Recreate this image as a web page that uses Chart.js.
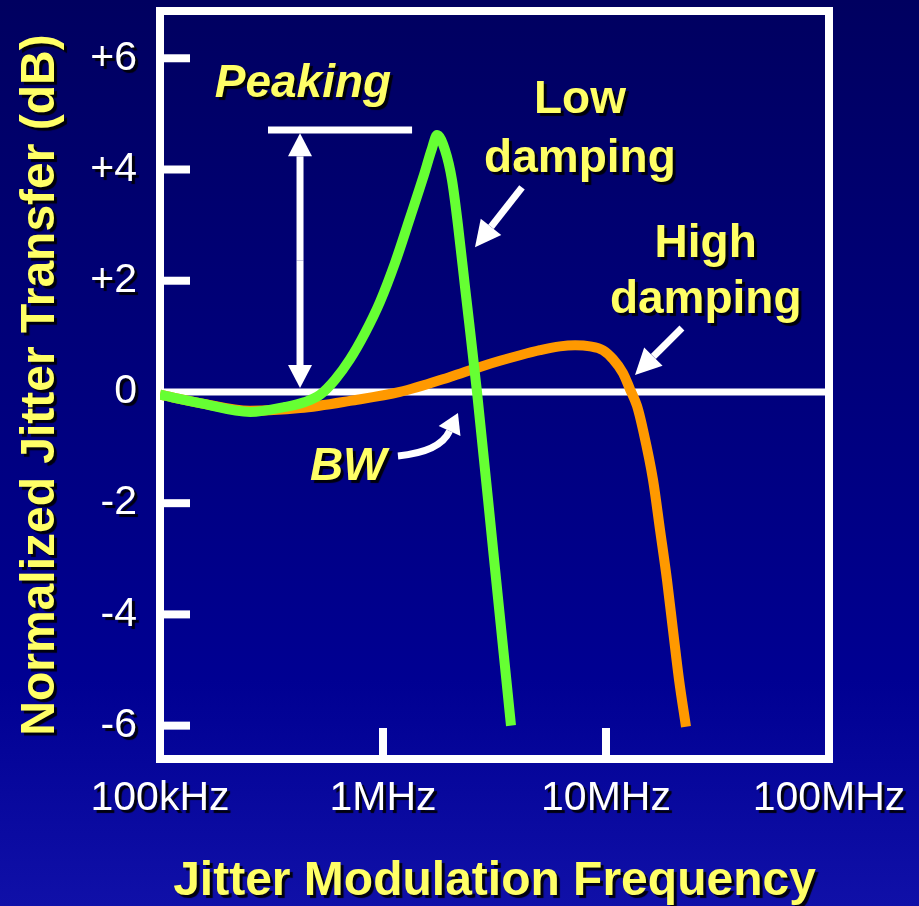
<!DOCTYPE html>
<html lang="en">
<head>
<meta charset="UTF-8" />
<title>Jitter Transfer</title>
<script src="https://cdn.jsdelivr.net/npm/chart.js"></script>
<style>
  html, body { margin: 0; padding: 0; background: #000066; }
  canvas { display: block; }
</style>
</head>
<body>
<canvas id="chart" width="919" height="906"></canvas>
<script>
// --- data (frequency in Hz, transfer in dB) ---
const lowFreq = [1.0e5, 1.51e5, 2.54e5, 3.636e5, 4.469e5, 5.22e5, 6.093e5, 7.112e5, 8.303e5, 9.694e5,
  1.132e6, 1.321e6, 1.512e6, 1.659e6, 1.747e6, 1.897e6, 2.039e6, 2.169e6, 2.332e6, 2.64e6, 3.146e6, 3.75e6];
const lowDb = [-0.05, -0.2, -0.36, -0.27, -0.18, -0.05, 0.22, 0.59, 1.06, 1.62,
  2.32, 3.13, 3.85, 4.38, 4.62, 4.35, 3.81, 3.0, 1.89, 0.0, -3.0, -6.0];

const highFreq = [1.0e5, 1.511e5, 2.533e5, 4.245e5, 7.112e5, 1.192e6, 1.997e6, 2.723e6, 3.347e6, 4.116e6,
  5.06e6, 6.21e6, 7.27e6, 8.48e6, 9.69e6, 1.075e7, 1.192e7, 1.281e7, 1.377e7, 1.465e7, 1.625e7, 1.747e7,
  1.877e7, 1.997e7, 2.125e7, 2.284e7];
const highDb = [-0.05, -0.2, -0.34, -0.29, -0.16, 0.0, 0.27, 0.45, 0.56, 0.66,
  0.75, 0.82, 0.84, 0.82, 0.75, 0.59, 0.34, 0.05, -0.25, -0.68, -1.58, -2.48,
  -3.38, -4.28, -5.17, -6.02];

const xTicks = [1e5, 1e6, 1e7, 1e8];
const xLabels = ["100kHz", "1MHz", "10MHz", "100MHz"];
const yTicks = [-6, -4, -2, 0, 2, 4, 6];
const yLabels = ["-6", "-4", "-2", "0", "+2", "+4", "+6"];

const FONT = "'Liberation Sans', Arial, sans-serif";
const YELLOW = "#FFFF66";

function arrow(ctx, x0, y0, x1, y1, head, half) {
  const a = Math.atan2(y1 - y0, x1 - x0);
  const bx = x1 - head * Math.cos(a), by = y1 - head * Math.sin(a);
  ctx.beginPath(); ctx.moveTo(x0, y0); ctx.lineTo(bx, by); ctx.stroke();
  ctx.beginPath(); ctx.moveTo(x1, y1);
  ctx.lineTo(bx + half * Math.sin(a), by - half * Math.cos(a));
  ctx.lineTo(bx - half * Math.sin(a), by + half * Math.cos(a));
  ctx.closePath(); ctx.fill();
}

function shadowOn(ctx) {
  ctx.shadowColor = "rgba(0,0,0,0.9)";
  ctx.shadowOffsetX = 3; ctx.shadowOffsetY = 3; ctx.shadowBlur = 1;
}
function shadowOff(ctx) {
  ctx.shadowColor = "transparent";
  ctx.shadowOffsetX = 0; ctx.shadowOffsetY = 0; ctx.shadowBlur = 0;
}

const decor = {
  id: "decor",
  beforeDraw(chart) {
    const { ctx, chartArea: a, scales: { x, y } } = chart;
    const g = ctx.createLinearGradient(0, 0, 0, chart.height);
    g.addColorStop(0, "#000060");
    g.addColorStop(0.75, "#000092");
    g.addColorStop(1, "#1010a8");
    ctx.fillStyle = g;
    ctx.fillRect(0, 0, chart.width, chart.height);

    ctx.save();
    ctx.strokeStyle = "#fff";
    ctx.lineWidth = 7;
    const y0 = y.getPixelForValue(0);
    ctx.beginPath(); ctx.moveTo(a.left, y0); ctx.lineTo(a.right, y0); ctx.stroke();
    ctx.lineWidth = 8;
    yTicks.forEach(v => {
      if (v === 0) return;
      const py = y.getPixelForValue(v);
      ctx.beginPath(); ctx.moveTo(a.left, py); ctx.lineTo(a.left + 30, py); ctx.stroke();
    });
    xTicks.slice(1, -1).forEach(v => {
      const px = x.getPixelForValue(v);
      ctx.beginPath(); ctx.moveTo(px, a.bottom); ctx.lineTo(px, a.bottom - 31); ctx.stroke();
    });
    ctx.strokeRect(a.left, a.top, a.right - a.left, a.bottom - a.top);
    ctx.restore();
    shadowOn(ctx); // axis labels and titles get the drop shadow
  },
  beforeDatasetsDraw(chart) {
    shadowOff(chart.ctx);
  },
  afterDatasetsDraw(chart) {
    const { ctx, scales: { x, y } } = chart;
    const p = (f, db) => [x.getPixelForValue(f), y.getPixelForValue(db)];
    ctx.save();
    ctx.strokeStyle = "#fff";
    ctx.fillStyle = "#fff";
    ctx.lineWidth = 7;

    // peaking bar and double arrow
    let [ax, ay] = p(3.05e5, 4.71), [bx] = p(1.35e6, 4.71);
    ctx.beginPath(); ctx.moveTo(ax, ay); ctx.lineTo(bx, ay); ctx.stroke();
    const [vx, vt] = p(4.245e5, 4.65), [, vb] = p(4.245e5, 0.07);
    const vm = (vt + vb) / 2;
    arrow(ctx, vx, vm, vx, vt, 23, 12);
    arrow(ctx, vx, vm, vx, vb, 23, 12);

    // low damping arrow
    let [t0x, t0y] = p(4.2e6, 3.68), [t1x, t1y] = p(2.585e6, 2.6);
    arrow(ctx, t0x, t0y, t1x, t1y, 26, 13);
    // high damping arrow
    [t0x, t0y] = p(2.19e7, 1.15); [t1x, t1y] = p(1.349e7, 0.305);
    arrow(ctx, t0x, t0y, t1x, t1y, 26, 13);

    // BW curved arrow
    const [c0x, c0y] = p(1.167e6, -1.15), [ccx, ccy] = p(1.8e6, -1.08), [c1x, c1y] = p(2.168e6, -0.377);
    const ang = Math.atan2(c1y - ccy, c1x - ccx);
    const hx = c1x - 20 * Math.cos(ang), hy = c1y - 20 * Math.sin(ang);
    ctx.beginPath(); ctx.moveTo(c0x, c0y); ctx.quadraticCurveTo(ccx, ccy, hx, hy); ctx.stroke();
    arrow(ctx, hx, hy, c1x, c1y, 20, 12);

    // labels
    shadowOn(ctx);
    ctx.fillStyle = YELLOW;
    ctx.textBaseline = "alphabetic";
    ctx.font = "italic bold 46px " + FONT;
    ctx.textAlign = "left";
    let [tx, ty] = p(1.76e5, 5.3);
    ctx.fillText("Peaking", tx, ty);
    [tx, ty] = p(4.7e5, -1.58);
    ctx.fillText("BW", tx, ty);
    ctx.font = "bold 46px " + FONT;
    ctx.textAlign = "center";
    [tx, ty] = p(7.64e6, 5.01); ctx.fillText("Low", tx, ty);
    [tx, ty] = p(7.64e6, 3.95); ctx.fillText("damping", tx, ty);
    [tx, ty] = p(2.8e7, 2.42); ctx.fillText("High", tx, ty);
    [tx, ty] = p(2.8e7, 1.42); ctx.fillText("damping", tx, ty);
    ctx.restore();
  }
};

new Chart(document.getElementById("chart"), {
  type: "line",
  data: {
    datasets: [
      {
        label: "Low damping",
        data: lowFreq.map((f, i) => ({ x: f, y: lowDb[i] })),
        borderColor: "#66FF33",
        borderWidth: 10,
        pointRadius: 0,
        cubicInterpolationMode: "monotone",
        fill: false
      },
      {
        label: "High damping",
        data: highFreq.map((f, i) => ({ x: f, y: highDb[i] })),
        borderColor: "#FF9900",
        borderWidth: 10,
        pointRadius: 0,
        cubicInterpolationMode: "monotone",
        fill: false
      }
    ]
  },
  options: {
    responsive: false,
    animation: false,
    devicePixelRatio: 1,
    layout: { padding: { top: 11, right: 90, left: 0, bottom: 0 } },
    plugins: { legend: { display: false }, tooltip: { enabled: false } },
    scales: {
      x: {
        type: "logarithmic",
        min: 1e5,
        max: 1e8,
        afterBuildTicks: s => { s.ticks = xTicks.map(v => ({ value: v })); },
        afterFit: s => { s.height = 147; s.paddingLeft = 0; s.paddingRight = 0; },
        grid: { display: false, drawTicks: false },
        border: { display: false },
        ticks: {
          autoSkip: false, maxRotation: 0, color: "#fff", padding: 15,
          font: { family: FONT, size: 41 },
          callback: (v, i) => xLabels[i]
        },
        title: {
          display: true, text: "Jitter Modulation Frequency", color: YELLOW,
          font: { family: FONT, size: 48, weight: "bold" },
          padding: { top: 0, bottom: -5 }
        }
      },
      y: {
        min: -6.6,
        max: 6.85,
        afterBuildTicks: s => { s.ticks = yTicks.map(v => ({ value: v })); },
        afterFit: s => { s.width = 160; s.paddingTop = 0; s.paddingBottom = 0; },
        grid: { display: false, drawTicks: false },
        border: { display: false },
        ticks: {
          autoSkip: false, color: "#fff", padding: 23,
          font: { family: FONT, size: 41 },
          callback: (v, i) => yLabels[i]
        },
        title: {
          display: true, text: "Normalized Jitter Transfer (dB)", color: YELLOW,
          font: { family: FONT, size: 48, weight: "bold" },
          padding: { top: 12, bottom: 0 }
        }
      }
    }
  },
  plugins: [decor]
});
</script>
</body>
</html>
